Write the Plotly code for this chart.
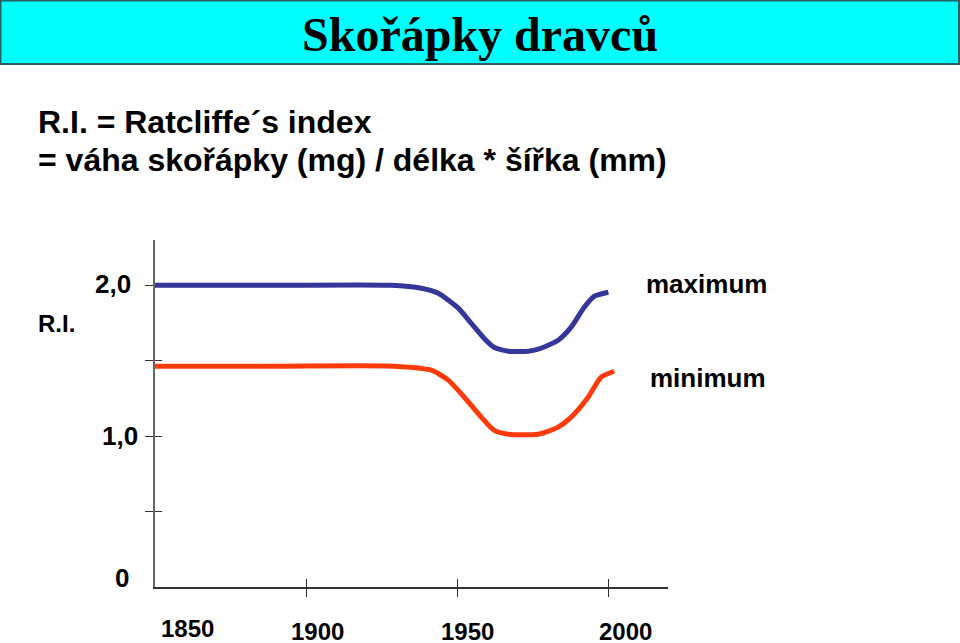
import plotly.graph_objects as go

# ---- data ----
max_years = [1850, 1890, 1928, 1938, 1943.6, 1950.2, 1954.5, 1958.7, 1962, 1966.7, 1973.3,
             1976.6, 1983.2, 1987.5, 1991.8, 1995.1, 1999.8]
max_vals = [2.0, 2.0, 2.0, 1.98, 1.947, 1.848, 1.748, 1.649, 1.589, 1.563, 1.563,
            1.576, 1.636, 1.722, 1.854, 1.927, 1.954]

min_years = [1850, 1890, 1929, 1941.3, 1946.9, 1952.2, 1957.8, 1962, 1966.7, 1976.6,
             1983.2, 1987.5, 1993.1, 1997.4, 2001.7]
min_vals = [1.464, 1.464, 1.464, 1.437, 1.371, 1.258, 1.126, 1.040, 1.013, 1.013,
            1.060, 1.126, 1.258, 1.391, 1.430]

x_tick_vals = [1850, 1900, 1950, 2000]
x_tick_labels = ["1850", "1900", "1950", "2000"]
y_tick_vals = [0, 1.0, 2.0]
y_tick_labels = ["0", "1,0", "2,0"]

title_text = "Skořápky dravců"
line1 = "R.I. = Ratcliffe´s index"
line2 = "= váha skořápky (mg) / délka * šířka (mm)"

# ---- layout geometry ----
W, H = 960, 643
L, R, T, B = 155, 960 - 668, 240, 643 - 587
PW, PH = W - L - R, H - T - B
X_RANGE = [1850, 2019.5]
Y_RANGE = [0, 2.3]


def px(x):
    return (x - L) / PW


def py(y):
    return (H - B - y) / PH


SANS = "Liberation Sans, Arial, Helvetica, sans-serif"
SERIF = "Liberation Serif, Times New Roman, serif"

fig = go.Figure()
fig.add_trace(go.Scatter(x=max_years, y=max_vals, mode="lines",
                         line=dict(color="#343699", width=5, shape="spline", smoothing=0.6),
                         hoverinfo="skip", showlegend=False))
fig.add_trace(go.Scatter(x=min_years, y=min_vals, mode="lines",
                         line=dict(color="#FF3B0C", width=5, shape="spline", smoothing=0.6),
                         hoverinfo="skip", showlegend=False))
# dummy trace for overlay axes (inside tick halves)
fig.add_trace(go.Scatter(x=[None], y=[None], xaxis="x2", yaxis="y2",
                         showlegend=False, hoverinfo="skip"))

annotations = []
# title
annotations.append(dict(text=f"<b>{title_text}</b>", x=px(480), y=py(34), xref="paper", yref="paper",
                        showarrow=False, font=dict(family=SERIF, size=48, color="black"),
                        xanchor="center", yanchor="middle"))
annotations.append(dict(text=f"<b>{line1}</b>", x=px(36), y=py(122), xref="paper", yref="paper",
                        showarrow=False, font=dict(family=SANS, size=32, color="black"),
                        xanchor="left", yanchor="middle"))
annotations.append(dict(text=f"<b>{line2}</b>", x=px(36), y=py(160), xref="paper", yref="paper",
                        showarrow=False, font=dict(family=SANS, size=32, color="black"),
                        xanchor="left", yanchor="middle"))
annotations.append(dict(text="<b>R.I.</b>", x=px(36), y=py(323), xref="paper", yref="paper",
                        showarrow=False, font=dict(family=SANS, size=24, color="black"),
                        xanchor="left", yanchor="middle"))
annotations.append(dict(text="<b>maximum</b>", x=px(706), y=py(284), xref="paper", yref="paper",
                        showarrow=False, font=dict(family=SANS, size=26, color="black"),
                        xanchor="center", yanchor="middle"))
annotations.append(dict(text="<b>minimum</b>", x=px(708), y=py(378), xref="paper", yref="paper",
                        showarrow=False, font=dict(family=SANS, size=26, color="black"),
                        xanchor="center", yanchor="middle"))

# x tick labels (offset as in the reference)
x_label_shift = [32, 11, 10, 17]
x_label_y = [628, 631, 631, 631]
for v, t, s, yy in zip(x_tick_vals, x_tick_labels, x_label_shift, x_label_y):
    annotations.append(dict(text=f"<b>{t}</b>", x=v, xref="x", y=py(yy), yref="paper",
                            xshift=s, showarrow=False, font=dict(family=SANS, size=24, color="black"),
                            xanchor="center", yanchor="middle"))
# y tick labels
y_label_right = [131, 140, 133]
y_label_y = [578, 436, 284]
for t, rx, yy in zip(y_tick_labels, y_label_right, y_label_y):
    annotations.append(dict(text=f"<b>{t}</b>", x=px(rx), y=py(yy), xref="paper", yref="paper",
                            showarrow=False, font=dict(family=SANS, size=26, color="black"),
                            xanchor="right", yanchor="middle"))

shapes = [dict(type="rect", xref="paper", yref="paper", x0=px(0.5), x1=px(959), y0=py(0.5), y1=py(64),
               fillcolor="#00FFFF", line=dict(color="#2B5F60", width=2), layer="below")]

fig.update_layout(
    width=W, height=H,
    margin=dict(l=L, r=R, t=T, b=B),
    paper_bgcolor="white", plot_bgcolor="white",
    showlegend=False,
    annotations=annotations,
    shapes=shapes,
    xaxis=dict(range=X_RANGE, showgrid=False, zeroline=False, showline=True,
               linecolor="#333333", linewidth=1.5, ticks="outside", ticklen=8,
               tickwidth=1.2, tickcolor="#333333", tickvals=[1900, 1950, 2000],
               showticklabels=False, fixedrange=True),
    yaxis=dict(range=Y_RANGE, showgrid=False, zeroline=False, showline=True,
               linecolor="#666666", linewidth=1.5, ticks="outside", ticklen=8,
               tickwidth=1.2, tickcolor="#333333", tickvals=[0.5, 1.0, 1.5, 2.0],
               showticklabels=False, fixedrange=True),
    xaxis2=dict(range=X_RANGE, overlaying="x", anchor="y", showgrid=False, zeroline=False,
                showline=False, ticks="inside", ticklen=8, tickwidth=1.2, tickcolor="#333333",
                tickvals=[1900, 1950, 2000], showticklabels=False, fixedrange=True),
    yaxis2=dict(range=Y_RANGE, overlaying="y", anchor="x", showgrid=False, zeroline=False,
                showline=False, ticks="inside", ticklen=7, tickwidth=1.2, tickcolor="#333333",
                tickvals=[0.5, 1.0, 1.5], showticklabels=False, fixedrange=True),
)

fig.write_html("out.html")
